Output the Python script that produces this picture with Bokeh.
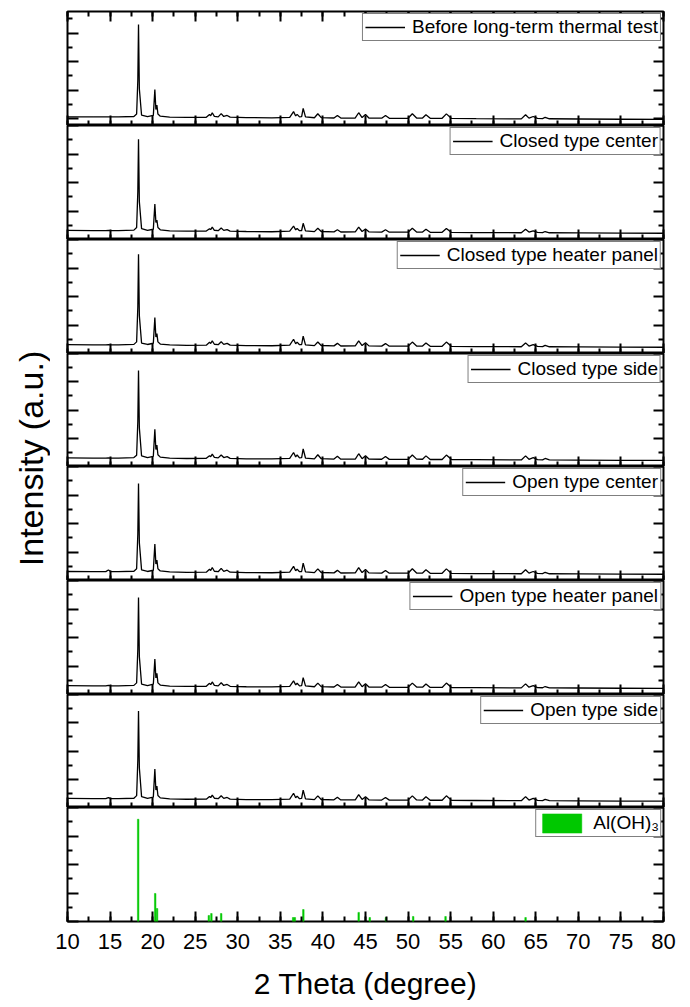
import math
from bokeh.plotting import figure
from bokeh.models import Range1d, LinearAxis, FixedTicker, SingleIntervalTicker, Legend, LegendItem
from bokeh.layouts import column, row
from bokeh.embed import file_html
from bokeh.resources import INLINE
from bokeh.core.properties import value

FONT = "Liberation Sans"

# ---------------- data ----------------
two_theta = [10, 13, 14.5, 14.8, 15.1, 16, 17.8, 18.12, 18.26, 18.34,
             18.44, 18.7, 19.4, 20.08, 20.26, 20.38, 20.5, 20.62, 20.9, 22,
             24, 26.3, 26.68, 26.82, 27.0, 27.25, 27.7, 28.05, 28.35, 28.75,
             29.1, 31, 34, 36.1, 36.55, 36.8, 36.97, 37.25, 37.5, 37.68,
             37.95, 39.0, 39.4, 39.8, 41.3, 41.7, 42.1, 43.8, 44.2, 44.6,
             45.0, 45.4, 46.9, 47.35, 47.8, 50.0, 50.5, 51.0, 51.7, 52.1,
             52.6, 54.0, 54.5, 55.1, 58, 63.3, 63.8, 64.2, 64.7, 65.2,
             65.8, 66.1, 66.6, 70, 75, 80]

sample_labels = ["Before long-term thermal test", "Closed type center",
                 "Closed type heater panel", "Closed type side",
                 "Open type center", "Open type heater panel", "Open type side"]

y_before = [7.6, 7.5, 7.5, 7.6, 7.5, 7.5, 7.9, 10.0, 40.0, 88.5,
            32.0, 9.0, 7.8, 8.8, 31.5, 14.0, 18.0, 10.0, 8.2, 7.4,
            7.1, 7.2, 9.7, 8.6, 11.2, 8.0, 7.6, 10.4, 7.9, 8.8,
            7.3, 6.9, 6.7, 7.2, 12.2, 8.4, 9.8, 7.6, 7.8, 15.0,
            7.6, 6.8, 10.3, 6.9, 6.6, 8.8, 6.5, 6.6, 11.2, 7.0,
            9.6, 6.6, 6.4, 8.8, 6.3, 6.3, 10.3, 6.6, 6.5, 9.4,
            6.3, 6.3, 10.2, 6.2, 6.0, 5.8, 9.5, 6.5, 7.9, 6.2,
            6.0, 7.2, 5.9, 5.7, 5.5, 5.4]

y_closed_center = [8.0, 7.8, 7.8, 7.9, 7.8, 7.8, 8.2, 10.5, 42.0, 88.0,
                   33.0, 9.5, 8.0, 9.0, 31.0, 15.0, 17.0, 10.5, 8.5, 7.6,
                   7.3, 7.4, 9.5, 8.7, 10.8, 8.1, 7.7, 10.0, 8.0, 8.7,
                   7.4, 7.0, 6.8, 7.3, 11.8, 8.5, 9.6, 7.7, 7.9, 14.2,
                   7.6, 6.9, 9.8, 7.0, 6.7, 8.5, 6.6, 6.7, 10.8, 7.0,
                   9.2, 6.7, 6.5, 8.5, 6.4, 6.4, 9.8, 6.6, 6.5, 9.0,
                   6.3, 6.3, 9.7, 6.2, 6.1, 5.9, 9.0, 6.5, 7.6, 6.2,
                   6.0, 7.0, 5.9, 5.8, 5.6, 5.5]

y_closed_heater = [7.8, 7.6, 7.6, 7.7, 7.6, 7.6, 8.0, 10.2, 41.0, 87.0,
                   33.0, 9.2, 7.9, 9.0, 31.6, 14.5, 17.5, 10.2, 8.3, 7.5,
                   7.2, 7.3, 9.8, 8.8, 11.0, 8.1, 7.7, 10.3, 8.0, 8.9,
                   7.3, 6.9, 6.8, 7.3, 12.5, 8.6, 10.0, 7.7, 7.9, 15.3,
                   7.6, 6.9, 10.1, 7.0, 6.7, 8.9, 6.6, 6.7, 11.0, 7.0,
                   9.4, 6.7, 6.5, 8.7, 6.4, 6.4, 10.0, 6.6, 6.5, 9.2,
                   6.3, 6.3, 10.0, 6.2, 6.1, 5.9, 9.3, 6.5, 7.8, 6.2,
                   6.0, 7.1, 5.9, 5.8, 5.6, 5.5]

y_closed_side = [7.7, 7.5, 7.5, 7.6, 7.5, 7.5, 7.9, 10.0, 40.0, 85.0,
                 34.0, 9.3, 7.8, 9.0, 33.0, 15.0, 19.0, 10.4, 8.3, 7.4,
                 7.1, 7.2, 9.6, 8.6, 10.9, 8.0, 7.6, 10.2, 7.9, 8.7,
                 7.2, 6.8, 6.7, 7.2, 12.4, 8.5, 10.2, 7.6, 7.8, 15.6,
                 7.5, 6.8, 10.4, 6.9, 6.6, 9.0, 6.5, 6.6, 11.3, 6.9,
                 9.5, 6.6, 6.4, 8.8, 6.3, 6.3, 10.2, 6.5, 6.4, 9.4,
                 6.2, 6.2, 10.1, 6.1, 6.0, 5.8, 9.4, 6.4, 7.8, 6.1,
                 5.9, 7.1, 5.8, 5.7, 5.5, 5.4]

y_open_center = [7.9, 7.7, 7.8, 9.2, 7.8, 7.7, 8.1, 10.3, 41.0, 85.0,
                 33.0, 9.3, 7.9, 9.0, 32.0, 14.5, 18.0, 10.3, 8.4, 7.5,
                 7.2, 7.3, 9.9, 8.8, 11.4, 8.1, 7.7, 10.6, 8.0, 9.0,
                 7.3, 6.9, 6.8, 7.3, 12.4, 8.6, 10.0, 7.7, 7.9, 15.2,
                 7.6, 6.9, 10.2, 7.0, 6.7, 8.9, 6.6, 6.7, 11.3, 7.0,
                 9.6, 6.7, 6.5, 8.8, 6.4, 6.4, 10.3, 6.6, 6.5, 9.4,
                 6.3, 6.3, 10.2, 6.2, 6.1, 5.9, 9.5, 6.5, 7.9, 6.2,
                 6.0, 7.2, 5.9, 5.8, 5.6, 5.5]

y_open_heater = [7.8, 7.6, 7.6, 8.0, 7.6, 7.6, 8.0, 10.2, 40.0, 85.0,
                 33.0, 9.2, 7.8, 9.0, 31.0, 14.5, 18.5, 10.2, 8.3, 7.4,
                 7.1, 7.2, 9.8, 8.7, 11.0, 8.0, 7.6, 10.3, 7.9, 8.8,
                 7.2, 6.8, 6.7, 7.2, 12.0, 8.4, 9.9, 7.6, 7.8, 14.8,
                 7.5, 6.8, 10.0, 6.9, 6.6, 8.7, 6.5, 6.6, 11.0, 6.9,
                 9.4, 6.6, 6.4, 8.7, 6.3, 6.3, 10.0, 6.5, 6.4, 9.2,
                 6.2, 6.2, 10.0, 6.1, 6.0, 5.8, 9.3, 6.4, 7.7, 6.1,
                 5.9, 7.0, 5.8, 5.7, 5.5, 5.4]

y_open_side = [8.0, 7.8, 7.8, 8.8, 7.8, 7.8, 8.2, 10.5, 42.0, 85.5,
               35.0, 9.6, 8.0, 9.2, 34.0, 15.5, 19.0, 10.6, 8.5, 7.6,
               7.3, 7.4, 9.8, 8.8, 11.0, 8.2, 7.8, 10.4, 8.1, 8.9,
               7.4, 7.0, 6.9, 7.4, 12.6, 8.6, 10.1, 7.8, 8.0, 15.4,
               7.7, 7.0, 10.3, 7.1, 6.8, 9.0, 6.7, 6.8, 11.4, 7.1,
               9.6, 6.8, 6.6, 8.9, 6.5, 6.5, 10.3, 6.7, 6.6, 9.5,
               6.4, 6.4, 10.3, 6.3, 6.2, 6.0, 9.6, 6.6, 8.0, 6.3,
               6.1, 7.2, 6.0, 5.9, 5.7, 5.6]

sample_series = [y_before, y_closed_center, y_closed_heater, y_closed_side,
                 y_open_center, y_open_heater, y_open_side]

ref_label = "Al(OH)₃"
ref_2theta = [18.3, 20.3, 20.52, 26.6, 26.9, 28.05, 36.5, 36.7, 37.7,
              44.2, 45.5, 47.4, 50.6, 54.4, 63.8]
ref_intensity = [89.7, 24.6, 11.4, 5.3, 7.0, 7.0, 3.5, 3.5, 10.5,
                 8.0, 3.5, 3.5, 4.4, 4.4, 3.5]

y_major_ticks = [[6, 31, 56, 81]] + [[0, 25, 50, 75, 100]] * 7
y_minor_ticks = [[18.5, 43.5, 68.5, 93.5]] + [[12.5, 37.5, 62.5, 87.5]] * 7

# ---------------- layout ----------------
frame_heights = [114, 114, 114, 113, 114, 114, 113, 114]
x_range = Range1d(10, 80)
SIDE_W = 50


def style_axis(ax, tick_major=10, tick_minor=5):
    ax.major_tick_in = tick_major
    ax.major_tick_out = 0
    ax.minor_tick_in = tick_minor
    ax.minor_tick_out = 0
    ax.major_tick_line_width = 2
    ax.minor_tick_line_width = 2
    ax.major_tick_line_color = "black"
    ax.minor_tick_line_color = "black"
    ax.axis_line_color = None
    ax.major_label_text_font_size = "0px"
    ax.major_label_text_color = None
    ax.major_label_standoff = 0


panels = []
n = len(frame_heights)
for i in range(n):
    last = (i == n - 1)
    p = figure(frame_width=596, frame_height=frame_heights[i],
               x_range=x_range, y_range=Range1d(0, 100),
               x_axis_type=None, y_axis_type=None,
               output_backend="svg", toolbar_location=None,
               min_border_left=67 - SIDE_W, min_border_right=27,
               min_border_top=(11 if i == 0 else 0),
               min_border_bottom=(86 if last else 0))
    p.outline_line_color = "black"
    p.outline_line_width = 2
    p.background_fill_color = "white"
    p.border_fill_color = "white"

    bottom = LinearAxis(ticker=SingleIntervalTicker(interval=5, num_minor_ticks=2))
    style_axis(bottom)
    if last:
        bottom.major_label_text_font_size = "22px"
        bottom.major_label_text_font = FONT
        bottom.major_label_text_color = "black"
        bottom.major_label_standoff = 12
        bottom.axis_label = "2 Theta (degree)"
        bottom.axis_label_text_font = FONT
        bottom.axis_label_text_font_size = "30px"
        bottom.axis_label_text_font_style = "normal"
        bottom.axis_label_text_color = "black"
        bottom.axis_label_standoff = 15
    p.add_layout(bottom, "below")
    if i == 0:
        top = LinearAxis(ticker=SingleIntervalTicker(interval=5, num_minor_ticks=2))
        style_axis(top)
        p.add_layout(top, "above")

    left = LinearAxis(ticker=FixedTicker(ticks=y_major_ticks[i], minor_ticks=y_minor_ticks[i]))
    style_axis(left, 11, 5)
    p.add_layout(left, "left")
    right = LinearAxis(ticker=FixedTicker(ticks=y_major_ticks[i], minor_ticks=y_minor_ticks[i]))
    style_axis(right, 10, 5)
    p.add_layout(right, "right")

    if not last:
        r = p.line(two_theta, sample_series[i], line_color="black", line_width=1.3)
        label = sample_labels[i]
        gw, gh, pad = 40, 20, 2
    else:
        r = p.vbar(x=ref_2theta, top=ref_intensity, bottom=0, width=0.18,
                   fill_color="#00c800", line_color="#00c800", line_width=0.5)
        label = ref_label
        gw, gh, pad = 49, 24, 1

    leg = Legend(items=[LegendItem(label=label, renderers=[r])],
                 location="top_right",
                 label_text_font=FONT, label_text_font_size="19px",
                 label_text_color="black",
                 glyph_width=gw, glyph_height=gh, label_standoff=7,
                 label_height=19,
                 padding=pad, margin=2, spacing=0,
                 border_line_color="black", border_line_width=1,
                 background_fill_color="white", background_fill_alpha=1.0)
    p.add_layout(leg)
    panels.append(p)

# y axis title on a narrow side figure, centred on the stack
lf = figure(width=SIDE_W, height=1007, x_range=Range1d(0, SIDE_W), y_range=Range1d(-549, 458),
            x_axis_type=None, y_axis_type=None, output_backend="svg",
            toolbar_location=None, min_border=0)
lf.outline_line_color = None
lf.xgrid.visible = False
lf.ygrid.visible = False
lf.text(x=[30], y=[0], text=["Intensity (a.u.)"], angle=math.pi / 2,
        text_align="center", text_baseline="middle",
        text_font=value(FONT), text_font_size=value("34px"), text_color="black")

layout = row(lf, column(*panels, spacing=0), spacing=0)

open("out.html", "w").write(file_html(layout, INLINE))
